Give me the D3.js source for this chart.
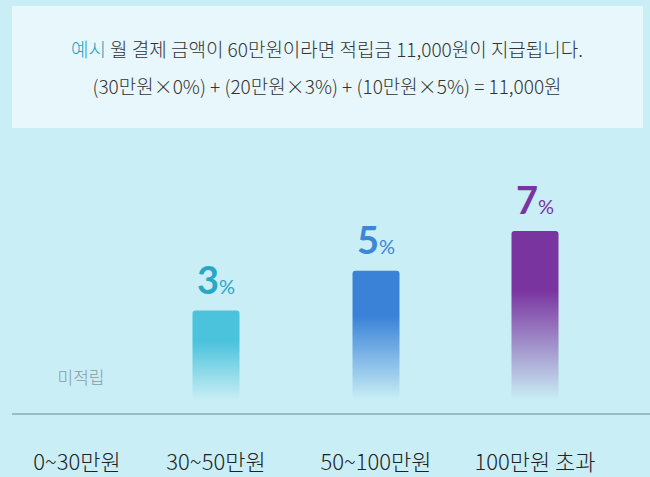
<!DOCTYPE html>
<html><head><meta charset="utf-8">
<script src="https://cdn.jsdelivr.net/npm/d3@7"></script>
<style>body{margin:0;background:#c9eef5;}svg{display:block;font-family:"Noto Sans CJK KR","Noto Sans",sans-serif;}</style>
</head><body>
<svg id="viz" width="650" height="477"></svg>
<script>
const categories = ["0~30만원", "30~50만원", "50~100만원", "100만원 초과"];
const rates      = [0, 3, 5, 7];
const barColors  = ["#b0b8bd", "#4cc3dc", "#3a82d8", "#7a34a0"];
const textColors = ["#8a9aa3", "#2ba7c6", "#3d86d8", "#7a34a2"];

const svg = d3.select("#viz");
const W = 650, H = 477;
svg.append("rect").attr("width", W).attr("height", H).attr("fill", "#c9eef5");

// example box
svg.append("rect").attr("x", 12).attr("y", 6).attr("width", 631).attr("height", 122)
  .attr("fill", "#e8f7fb");
const t1 = svg.append("text").attr("x", 327).attr("y", 57).attr("text-anchor", "middle")
  .attr("font-size", 19).attr("font-weight", 300).attr("fill", "#333");
t1.append("tspan").attr("fill", "#1fa2b8").text("예시");
t1.append("tspan").text(" 월 결제 금액이 60만원이라면 적립금 11,000원이 지급됩니다.");
svg.append("text").attr("x", 327).attr("y", 94).attr("text-anchor", "middle")
  .attr("font-size", 19).attr("font-weight", 300).attr("fill", "#333")
  .text("(30만원×0%) + (20만원×3%) + (10만원×5%) = 11,000원");

// chart
const centers = [77, 216, 376, 535];
const base = 400;
const y = d3.scaleLinear().domain([-1.5, 7]).range([base, 231]);

const defs = svg.append("defs");
categories.forEach((c, i) => {
  if (!rates[i]) return;
  const g = defs.append("linearGradient").attr("id", "g" + i)
    .attr("x1", 0).attr("y1", 0).attr("x2", 0).attr("y2", 1);
  g.append("stop").attr("offset", "0%").attr("stop-color", barColors[i]);
  g.append("stop").attr("offset", "35%").attr("stop-color", barColors[i]);
  g.append("stop").attr("offset", "100%").attr("stop-color", barColors[i]).attr("stop-opacity", 0);
});

const bw = 47;
categories.forEach((c, i) => {
  const cx = centers[i];
  if (rates[i]) {
    svg.append("rect").attr("x", cx - bw / 2).attr("y", y(rates[i]))
      .attr("width", bw).attr("height", base - y(rates[i])).attr("rx", 3)
      .attr("fill", `url(#g${i})`);
    const lbl = svg.append("text").attr("x", cx).attr("y", y(rates[i]) - 17)
      .attr("text-anchor", "middle").attr("fill", textColors[i])
      .attr("font-family", "Lato, 'Noto Sans', sans-serif").attr("font-weight", "bold");
    lbl.append("tspan").attr("font-size", 38).text(rates[i]);
    lbl.append("tspan").attr("font-size", 20).attr("font-weight", "normal").text("%");
  } else {
    svg.append("text").attr("x", 81).attr("y", 384).attr("text-anchor", "middle")
      .attr("font-size", 17).attr("font-weight", 300).attr("fill", textColors[i]).text("미적립");
  }
  svg.append("text").attr("x", cx).attr("y", 470).attr("text-anchor", "middle")
    .attr("font-size", 22).attr("font-weight", 300).attr("fill", "#222").text(c);
});

svg.append("line").attr("x1", 12).attr("x2", 650).attr("y1", 414).attr("y2", 414)
  .attr("stroke", "#8fa9b3").attr("stroke-width", 1.5);
</script>
</body></html>
